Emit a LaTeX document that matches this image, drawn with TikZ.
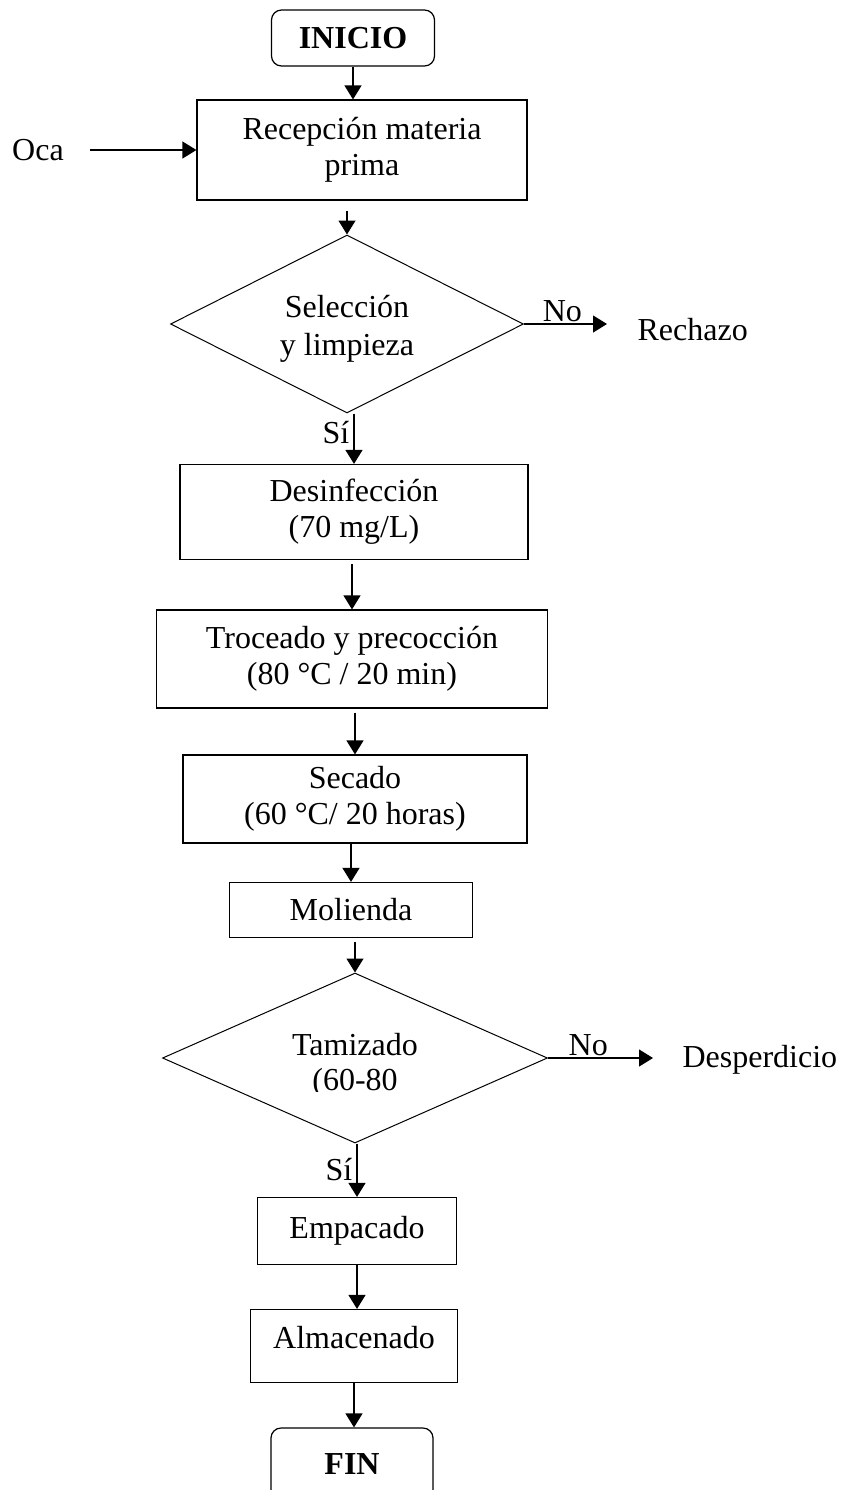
\documentclass[tikz,border=0pt]{standalone}
\usepackage{fontspec}
\setmainfont{Liberation Serif}
\usetikzlibrary{arrows.meta, shapes.geometric, positioning}
\tikzset{
  proc/.style={draw, line width=0.6pt, align=center, inner sep=2pt},
  term/.style={proc, rounded corners=5pt, font=\fontsize{16}{18}\selectfont\bfseries},
  decision/.style={draw, diamond, shape aspect=2, line width=0.5pt, align=center, inner sep=0pt},
  plain/.style={inner sep=0pt, align=center},
  label above/.style={above, inner sep=1pt}
}

\begin{document}
\begin{tikzpicture}[>={Triangle[length=7pt,width=8.5pt]}, line width=0.6pt, x=0.5pt, y=-0.5pt, font=\fontsize{16}{18}\selectfont]
\useasboundingbox (0,0) rectangle (842,1490);
\clip (0,0) rectangle (842,1490);
\node[term, minimum width=81.5pt, minimum height=28pt] (inicio) at (353,38) {INICIO};
\node[proc, minimum width=165pt, minimum height=50pt] (recep) at (362,150) {Recepción materia\\prima};
\node[plain] (oca) at (38,150) {Oca};
\node[decision, minimum width=176.5pt, minimum height=89pt] (sel) at (347,324) {};
\node[plain, font=\fontsize{16}{19}\selectfont] (seltxt) at (347,329) {Selección\\y limpieza};
\node[plain, anchor=west] (rechazo) at (637,330) {Rechazo};
\node[plain] (si1) at (336,433) {Sí};
\node[proc, minimum width=174pt, minimum height=47.5pt] (desinf) at (354,512) {Desinfección\\(70 mg/L)};
\node[proc, minimum width=195.5pt, minimum height=49pt] (troceado) at (352,659) {Troceado y precocción\\(80 °C / 20 min)};
\node[proc, minimum width=172pt, minimum height=44pt] (secado) at (355,799) {Secado\\(60 °C/ 20 horas)};
\node[proc, minimum width=121.5pt, minimum height=27.5pt] (molienda) at (351,910) {Molienda};
\node[decision, minimum width=192.5pt, minimum height=85pt] (tamiz) at (355,1058) {};
\node[plain] (tamtxt) at (355,1045) {Tamizado};
\begin{scope}
\clip (250,1062) rectangle (460,1091);
\node[plain] (tamrango) at (355,1083) {(60-80};
\end{scope}
\node[plain, anchor=west] (desp) at (682,1060) {Desperdicio};
\node[plain] (si2) at (339,1170) {Sí};
\node[proc, minimum width=99.5pt, minimum height=33.5pt] (empacado) at (357,1231) {Empacado};
\node[proc, minimum width=103.5pt, minimum height=36.5pt, text depth=9pt] (almacen) at (354,1346) {Almacenado};
\node[term, minimum width=81pt, minimum height=36pt] (fin) at (352,1464) {FIN};

\draw[->] (inicio.south) -- (inicio.south |- recep.north);
\draw[->, shorten <=13pt] (oca.east) -- (oca.east -| recep.west);
\draw[->, shorten <=5pt] (sel.north |- recep.south) -- (sel.north);
\draw[->, shorten >=15pt] (sel.east) -- node[label above, pos=0.34] (no1) {No} (sel.east -| rechazo.west);
\draw[->] (desinf.north |- sel.south) -- (desinf.north);
\draw[->, shorten <=2pt] (troceado.north |- desinf.south) -- (troceado.north);
\draw[->, shorten <=2pt] (secado.north |- troceado.south) -- (secado.north);
\draw[->] (molienda.north |- secado.south) -- (molienda.north);
\draw[->, shorten <=2pt] (tamiz.north |- molienda.south) -- (tamiz.north);
\draw[->, shorten >=14.5pt] (tamiz.east) -- node[label above, pos=0.3] (no2) {No} (tamiz.east -| desp.west);
\draw[->] (empacado.north |- tamiz.south) -- (empacado.north);
\draw[->] (empacado.south) -- (empacado.south |- almacen.north);
\draw[->] (almacen.south) -- (almacen.south |- fin.north);
\end{tikzpicture}
\end{document}
